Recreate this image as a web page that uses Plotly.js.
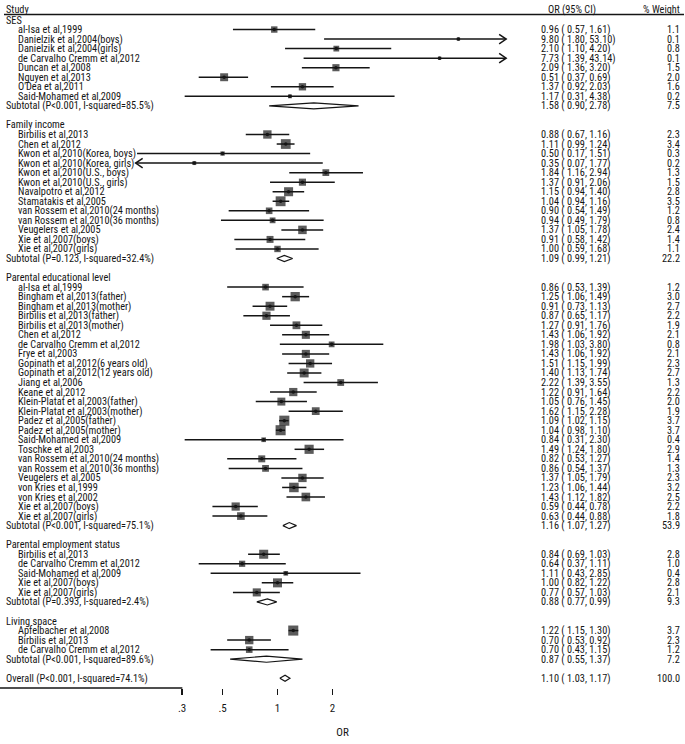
<!DOCTYPE html>
<html><head><meta charset="utf-8">
<script src="https://cdn.plot.ly/plotly-3.0.1.min.js"></script>
<style>html,body{margin:0;padding:0;background:#fff}#chart{width:685px;height:744px}</style>
</head><body><div id="chart"></div>
<script>
// ---------------- DATA ----------------
const groupNames = ["SES", "Family income", "Parental educational level", "Parental employment status", "Living space"];

const studyNames = [
  "al-Isa et al,1999", "Danielzik et al,2004(boys)", "Danielzik et al,2004(girls)", "de Carvalho Cremm et al,2012",
  "Duncan et al,2008", "Nguyen et al,2013", "O'Dea et al,2011", "Said-Mohamed et al,2009",
  "Birbilis et al,2013", "Chen et al,2012", "Kwon et al,2010(Korea, boys)", "Kwon et al,2010(Korea, girls)",
  "Kwon et al,2010(U.S., boys)", "Kwon et al,2010(U.S., girls)", "Navalpotro et al,2012", "Stamatakis et al,2005",
  "van Rossem et al,2010(24 months)", "van Rossem et al,2010(36 months)", "Veugelers et al,2005", "Xie et al,2007(boys)", "Xie et al,2007(girls)",
  "al-Isa et al,1999", "Bingham et al,2013(father)", "Bingham et al,2013(mother)", "Birbilis et al,2013(father)", "Birbilis et al,2013(mother)",
  "Chen et al,2012", "de Carvalho Cremm et al,2012", "Frye et al,2003", "Gopinath et al,2012(6 years old)", "Gopinath et al,2012(12 years old)",
  "Jiang et al,2006", "Keane et al,2012", "Klein-Platat et al,2003(father)", "Klein-Platat et al,2003(mother)", "Padez et al,2005(father)",
  "Padez et al,2005(mother)", "Said-Mohamed et al,2009", "Toschke et al,2003", "van Rossem et al,2010(24 months)", "van Rossem et al,2010(36 months)",
  "Veugelers et al,2005", "von Kries et al,1999", "von Kries et al,2002", "Xie et al,2007(boys)", "Xie et al,2007(girls)",
  "Birbilis et al,2013", "de Carvalho Cremm et al,2012", "Said-Mohamed et al,2009", "Xie et al,2007(boys)", "Xie et al,2007(girls)",
  "Apfelbacher et al,2008", "Birbilis et al,2013", "de Carvalho Cremm et al,2012"
];
const studyGroup = [
  0,0,0,0,0,0,0,0,
  1,1,1,1,1,1,1,1,1,1,1,1,1,
  2,2,2,2,2,2,2,2,2,2,2,2,2,2,2,2,2,2,2,2,2,2,2,2,2,
  3,3,3,3,3,
  4,4,4
];
const studyOR = [
  0.96, 9.80, 2.10, 7.73, 2.09, 0.51, 1.37, 1.17,
  0.88, 1.11, 0.50, 0.35, 1.84, 1.37, 1.15, 1.04, 0.90, 0.94, 1.37, 0.91, 1.00,
  0.86, 1.25, 0.91, 0.87, 1.27, 1.43, 1.98, 1.43, 1.51, 1.40, 2.22, 1.22, 1.05, 1.62, 1.09, 1.04, 0.84, 1.49, 0.82, 0.86, 1.37, 1.23, 1.43, 0.59, 0.63,
  0.84, 0.64, 1.11, 1.00, 0.77,
  1.22, 0.70, 0.70
];
const studyLo = [
  0.57, 1.80, 1.10, 1.39, 1.36, 0.37, 0.92, 0.31,
  0.67, 0.99, 0.17, 0.07, 1.16, 0.91, 0.94, 0.94, 0.54, 0.49, 1.05, 0.58, 0.59,
  0.53, 1.06, 0.73, 0.65, 0.91, 1.06, 1.03, 1.06, 1.15, 1.13, 1.39, 0.91, 0.76, 1.15, 1.02, 0.98, 0.31, 1.24, 0.53, 0.54, 1.05, 1.06, 1.12, 0.44, 0.44,
  0.69, 0.37, 0.43, 0.82, 0.57,
  1.15, 0.53, 0.43
];
const studyHi = [
  1.61, 53.10, 4.20, 43.14, 3.20, 0.69, 2.03, 4.38,
  1.16, 1.24, 1.51, 1.77, 2.94, 2.06, 1.40, 1.16, 1.49, 1.79, 1.78, 1.42, 1.68,
  1.39, 1.49, 1.13, 1.17, 1.76, 1.92, 3.80, 1.92, 1.99, 1.74, 3.55, 1.64, 1.45, 2.28, 1.15, 1.10, 2.30, 1.80, 1.27, 1.37, 1.79, 1.44, 1.82, 0.78, 0.88,
  1.03, 1.11, 2.85, 1.22, 1.03,
  1.30, 0.92, 1.15
];
const studyWeight = [
  1.1, 0.1, 0.8, 0.1, 1.5, 2.0, 1.6, 0.2,
  2.3, 3.4, 0.3, 0.2, 1.3, 1.5, 2.8, 3.5, 1.2, 0.8, 2.4, 1.4, 1.1,
  1.2, 3.0, 2.7, 2.2, 1.9, 2.1, 0.8, 2.1, 2.3, 2.7, 1.3, 2.2, 2.0, 1.9, 3.7, 3.7, 0.4, 2.9, 1.4, 1.3, 2.3, 3.2, 2.5, 2.2, 1.8,
  2.8, 1.0, 0.4, 2.8, 2.1,
  3.7, 2.3, 1.2
];

const subtotalLabels = [
  "Subtotal (P<0.001, I-squared=85.5%)", "Subtotal (P=0.123, I-squared=32.4%)", "Subtotal (P<0.001, I-squared=75.1%)",
  "Subtotal (P=0.393, I-squared=2.4%)", "Subtotal (P<0.001, I-squared=89.6%)"
];
const subtotalOR = [1.58, 1.09, 1.16, 0.88, 0.87];
const subtotalLo = [0.90, 0.99, 1.07, 0.77, 0.55];
const subtotalHi = [2.78, 1.21, 1.27, 0.99, 1.37];
const subtotalWeight = [7.5, 22.2, 53.9, 9.3, 7.2];

const overallLabel = "Overall (P<0.001, I-squared=74.1%)";
const overallOR = 1.10, overallLo = 1.03, overallHi = 1.17, overallWeight = 100.0;

const tickValues = [0.3, 0.5, 1, 2];
const tickLabels = [".3", ".5", "1", "2"];
const axisTitle = "OR";
const headers = ["Study", "OR (95% CI)", "% Weight"];

// ---------------- LAYOUT GEOMETRY ----------------
const W = 685, H = 744;
const pxPerDecade = 182.5, xOnePx = 277.5;
const rowPx = 9.54, firstRowPx = 20, axisPx = 688;
const xRange = [-xOnePx / pxPerDecade, (W - xOnePx) / pxPerDecade];
const yRange = [(axisPx - firstRowPx) / rowPx, -firstRowPx / rowPx];
const clipLo = 0.167, clipHi = 17.9;
const pxRow = p => (p - firstRowPx) / rowPx;

const FONT = "'Roboto Condensed', 'Open Sans Condensed', 'DejaVu Sans Condensed', sans-serif";
const INK = "#151515";
const fs = 10.3;

// ---------------- BUILD ROWS ----------------
const annotations = [];
function txt(xpx, row, text, anchor) {
  annotations.push({
    xref: "paper", yref: "y", x: xpx / W, y: row, text: text, showarrow: false, borderpad: 0,
    xanchor: anchor || "left", yanchor: "middle", font: { family: FONT, size: fs, color: INK }
  });
}
const fmtCI = (o, l, h) => o.toFixed(2) + " ( " + l.toFixed(2) + ", " + h.toFixed(2) + ")";

const studyRow = [];
const subRow = [];
let r = 0;
groupNames.forEach((g, gi) => {
  txt(5, r, g);
  r++;
  studyNames.forEach((s, i) => {
    if (studyGroup[i] === gi) {
      studyRow[i] = r;
      txt(17, r, s);
      txt(540, r, fmtCI(studyOR[i], studyLo[i], studyHi[i]));
      txt(681, r, studyWeight[i].toFixed(1), "right");
      r++;
    }
  });
  subRow[gi] = r;
  txt(5, r, subtotalLabels[gi]);
  txt(540, r, fmtCI(subtotalOR[gi], subtotalLo[gi], subtotalHi[gi]));
  txt(681, r, subtotalWeight[gi].toFixed(1), "right");
  r += 2;
});
const overallRow = r;
txt(5, overallRow, overallLabel);
txt(540, overallRow, fmtCI(overallOR, overallLo, overallHi));
txt(681, overallRow, overallWeight.toFixed(1), "right");

// headers
const headRow = pxRow(9);
txt(5, headRow, headers[0]);
txt(572, headRow, headers[1], "center");
txt(681, headRow, headers[2], "right");

// ---------------- TRACES ----------------
const ciX = [], ciY = [];
const arX = [], arY = [];
const back = Math.pow(10, 7 / pxPerDecade);
studyOR.forEach((o, i) => {
  const lo = Math.max(studyLo[i], clipLo), hi = Math.min(studyHi[i], clipHi);
  ciX.push(lo, hi, null); ciY.push(studyRow[i], studyRow[i], null);
  if (studyHi[i] > clipHi) {
    arX.push(clipHi / back, clipHi, clipHi / back, null);
    arY.push(studyRow[i] - 0.5, studyRow[i], studyRow[i] + 0.5, null);
  }
  if (studyLo[i] < clipLo) {
    arX.push(clipLo * back, clipLo, clipLo * back, null);
    arY.push(studyRow[i] - 0.5, studyRow[i], studyRow[i] + 0.5, null);
  }
});

const dmX = [], dmY = [];
const dh = 0.32;
function diamond(o, l, h, row) {
  dmX.push(l, o, h, o, l, null);
  dmY.push(row, row - dh, row, row + dh, row, null);
}
subtotalOR.forEach((o, gi) => diamond(o, subtotalLo[gi], subtotalHi[gi], subRow[gi]));
diamond(overallOR, overallLo, overallHi, overallRow);

const traces = [
  { type: "scatter", mode: "lines", x: ciX, y: ciY, line: { color: INK, width: 1.5 }, hoverinfo: "skip", showlegend: false },
  { type: "scatter", mode: "lines", x: arX, y: arY, line: { color: INK, width: 1.5 }, hoverinfo: "skip", showlegend: false },
  { type: "scatter", mode: "markers", x: studyOR, y: studyRow,
    marker: { symbol: "square", color: INK, size: studyWeight.map(w => 2 + 4.2 * Math.sqrt(w)), line: { width: 0 } },
    hoverinfo: "skip", showlegend: false },
  { type: "scatter", mode: "markers", x: studyOR, y: studyRow,
    marker: { symbol: "circle", color: INK, size: 3.5, line: { width: 0 } }, hoverinfo: "skip", showlegend: false },
  { type: "scatter", mode: "lines", x: dmX, y: dmY, line: { color: INK, width: 1.2 }, hoverinfo: "skip", showlegend: false }
];

const shapes = [
  { type: "line", xref: "paper", yref: "y", x0: 4 / W, x1: 684 / W, y0: pxRow(14.5), y1: pxRow(14.5), line: { color: INK, width: 1.4 } },
  { type: "line", xref: "x", yref: "y", x0: 0, x1: 0, y0: pxRow(14.5), y1: yRange[0], line: { color: INK, width: 1.5 }, layer: "below" },
  { type: "line", xref: "x", yref: "paper", x0: Math.log10(tickValues[0]), x1: Math.log10(tickValues[tickValues.length - 1]), y0: 0, y1: 0, line: { color: INK, width: 1.5 } }
];

const layout = {
  width: W, height: H,
  margin: { l: 0, r: 0, t: 0, b: H - axisPx },
  paper_bgcolor: "#fff", plot_bgcolor: "#fff",
  font: { family: FONT, size: fs, color: INK },
  showlegend: false,
  xaxis: {
    type: "log", range: xRange, showgrid: false, zeroline: false, showline: false,
    ticks: "outside", ticklen: 6, tickwidth: 1.5, tickcolor: INK,
    tickvals: tickValues, ticktext: tickLabels, tickfont: { family: FONT, size: 11, color: INK },
    ticklabelstandoff: 4,
    title: { text: axisTitle, font: { family: FONT, size: 11, color: INK }, standoff: 14 },
    fixedrange: true
  },
  yaxis: { range: yRange, visible: false, showgrid: false, zeroline: false, fixedrange: true },
  shapes: shapes,
  annotations: annotations
};

Plotly.newPlot("chart", traces, layout, { displayModeBar: false, staticPlot: true });
</script>
</body></html>
